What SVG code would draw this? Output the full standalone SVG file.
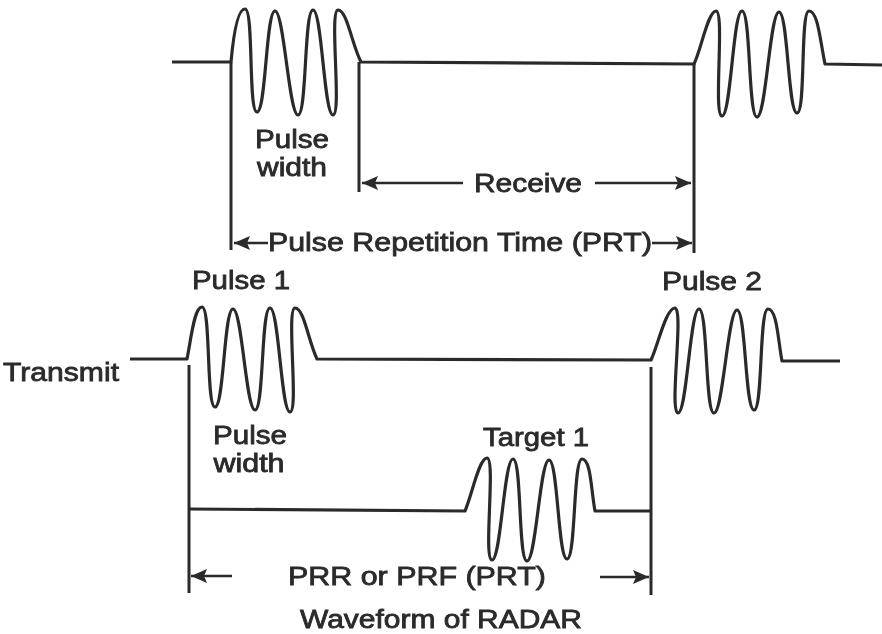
<svg xmlns="http://www.w3.org/2000/svg" width="882" height="634" viewBox="0 0 882 634">
<style>
.w{fill:none;stroke:#2b2b2b;stroke-width:3.2;stroke-linejoin:round}
.g{fill:none;stroke:#2b2b2b;stroke-width:3}
.a{fill:none;stroke:#2b2b2b;stroke-width:2.6;marker-end:url(#h)}
text{font-family:"Liberation Sans",Arial,sans-serif;font-size:26px;fill:#2a2a2a;stroke:#2a2a2a;stroke-width:.8;text-anchor:middle}
</style>
<defs>
<filter id="b" x="-5%" y="-5%" width="110%" height="110%"><feGaussianBlur stdDeviation="0.6"/></filter>
<marker id="h" markerUnits="userSpaceOnUse" markerWidth="17" markerHeight="14" refX="16" refY="7" orient="auto"><path d="M0 0L16 7L0 14L3 7Z" fill="#2b2b2b"/></marker>
</defs>
<rect width="882" height="634" fill="#fff"/>
<g id="connectors" filter="url(#b)">
<path class="g" d="M231 62V250M359 62V192M694 63V253M189 365V593M651 367V595"/>
<path class="a" d="M463 183H362"/>
<path class="a" d="M595 183H691"/>
<path class="a" d="M268 243H234"/>
<path class="a" d="M652 243H692"/>
<path class="a" d="M232 576H191"/>
<path class="a" d="M600 577H649"/>
</g>
<g id="top-waveform" filter="url(#b)">
<path class="w" d="M172 62H231C233 40 237 9 245 9C254 9 248 112 257 112C266 112 266 11 275 11C284 11 289 115 298 115C307 115 304 10 313 10C322 10 324 115 333 115C342 115 329 10 338 10C347 10 352 45 361 62L694 64C701 50 708 11 716 11C725 11 713 116 722 116C731 116 733 11 742 11C751 11 748 117 757 117C766 117 770 12 779 12C788 12 788 113 797 113C806 113 800 11 809 11C818 11 820 40 825 64L882 65"/>
</g>
<g id="transmit-waveform" filter="url(#b)">
<path class="w" d="M130 359H187C191 340 194 307 202 307C211 307 206 407 215 407C224 407 224 309 233 309C242 309 246 410 255 410C264 410 261 308 270 308C279 308 281 412 290 412C299 412 286 308 295 308C304 308 308 340 317 359L651 360C658 345 666 308 675 308C684 308 669 413 678 413C687 413 690 309 699 309C708 309 705 413 714 413C723 413 728 310 737 310C746 310 745 410 754 410C763 410 759 309 768 309C777 309 778 340 782 361H840"/>
</g>
<g id="target-waveform" filter="url(#b)">
<path class="w" d="M189 509L465 511C472 495 479 458 487 458C496 458 483 560 492 560C501 560 504 459 513 459C522 459 518 561 527 561C536 561 540 460 549 460C558 460 558 559 567 559C576 559 573 459 582 459C591 459 591 490 595 511H651"/>
</g>
<g id="labels" filter="url(#b)">
<text x="292" y="148" textLength="74" lengthAdjust="spacingAndGlyphs">Pulse</text>
<text x="292" y="176" textLength="70" lengthAdjust="spacingAndGlyphs">width</text>
<text x="528" y="192" textLength="108" lengthAdjust="spacingAndGlyphs">Receive</text>
<text x="460" y="251" textLength="384" lengthAdjust="spacingAndGlyphs">Pulse Repetition Time (PRT)</text>
<text x="241" y="289" textLength="98" lengthAdjust="spacingAndGlyphs">Pulse 1</text>
<text x="712" y="290" textLength="100" lengthAdjust="spacingAndGlyphs">Pulse 2</text>
<text x="61" y="381" textLength="116" lengthAdjust="spacingAndGlyphs">Transmit</text>
<text x="250" y="444" textLength="74" lengthAdjust="spacingAndGlyphs">Pulse</text>
<text x="249" y="472" textLength="71" lengthAdjust="spacingAndGlyphs">width</text>
<text x="536" y="446" textLength="106" lengthAdjust="spacingAndGlyphs">Target 1</text>
<text x="417" y="585" textLength="258" lengthAdjust="spacingAndGlyphs">PRR or PRF (PRT)</text>
<text x="441" y="628" textLength="282" lengthAdjust="spacingAndGlyphs">Waveform of RADAR</text>
</g>
</svg>
